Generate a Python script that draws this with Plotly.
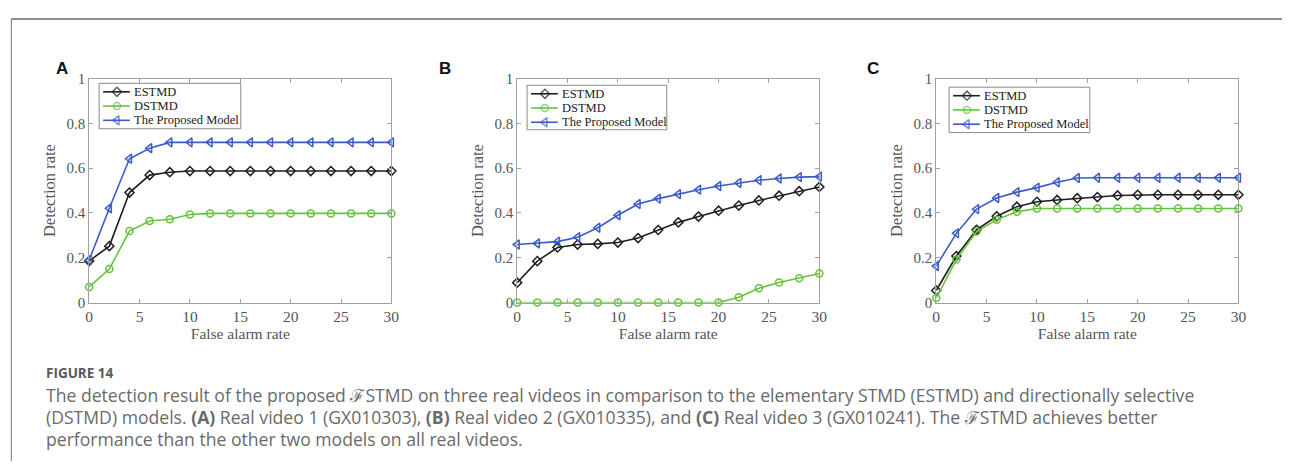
import plotly.graph_objects as go

W, H = 1290, 469

far = [0, 2, 4, 6, 8, 10, 12, 14, 16, 18, 20, 22, 24, 26, 28, 30]

a_estmd = [0.186, 0.252, 0.491, 0.569, 0.582, 0.587, 0.587, 0.587, 0.587, 0.587, 0.587, 0.587, 0.587, 0.587, 0.587, 0.587]
a_dstmd = [0.070, 0.150, 0.319, 0.364, 0.372, 0.393, 0.398, 0.398, 0.398, 0.398, 0.398, 0.398, 0.398, 0.398, 0.398, 0.398]
a_prop = [0.190, 0.421, 0.642, 0.689, 0.715, 0.715, 0.715, 0.715, 0.715, 0.715, 0.715, 0.715, 0.715, 0.715, 0.715, 0.715]

b_estmd = [0.089, 0.185, 0.246, 0.259, 0.262, 0.268, 0.288, 0.324, 0.358, 0.384, 0.410, 0.433, 0.456, 0.477, 0.497, 0.516]
b_dstmd = [0.0, 0.0, 0.0, 0.0, 0.0, 0.0, 0.0, 0.0, 0.0, 0.0, 0.0, 0.024, 0.064, 0.090, 0.109, 0.130]
b_prop = [0.259, 0.264, 0.272, 0.292, 0.334, 0.390, 0.440, 0.464, 0.484, 0.504, 0.520, 0.534, 0.546, 0.554, 0.560, 0.562]

c_estmd = [0.054, 0.208, 0.325, 0.385, 0.428, 0.450, 0.458, 0.466, 0.471, 0.478, 0.481, 0.481, 0.481, 0.481, 0.481, 0.481]
c_dstmd = [0.021, 0.192, 0.317, 0.370, 0.405, 0.420, 0.420, 0.420, 0.420, 0.420, 0.420, 0.420, 0.420, 0.420, 0.420, 0.420]
c_prop = [0.163, 0.309, 0.417, 0.467, 0.493, 0.513, 0.537, 0.556, 0.557, 0.557, 0.557, 0.557, 0.557, 0.557, 0.557, 0.557]

series_names = ["ESTMD", "DSTMD", "The Proposed Model"]
panel_labels = ["A", "B", "C"]
x_ticks = [0, 5, 10, 15, 20, 25, 30]
y_ticks = [0, 0.2, 0.4, 0.6, 0.8, 1]
y_tick_text = ["0", "0.2", "0.4", "0.6", "0.8", "1"]

caption_head = "FIGURE 14"
caption_lines = [
    "The detection result of the proposed ℱSTMD on three real videos in comparison to the elementary STMD (ESTMD) and directionally selective",
    "(DSTMD) models. <b>(A)</b> Real video 1 (GX010303), <b>(B)</b> Real video 2 (GX010335), and <b>(C)</b> Real video 3 (GX010241). The ℱSTMD achieves better",
    "performance than the other two models on all real videos.",
]

panels = [(a_estmd, a_dstmd, a_prop), (b_estmd, b_dstmd, b_prop), (c_estmd, c_dstmd, c_prop)]

colors = ["#1e1e1e", "#66c23f", "#3a5cc4"]
symbols = ["diamond-open", "circle-open", "triangle-left-open"]
msizes = [7, 7, 8]

# pixel geometry of axes
x_px = [(86, 391), (518, 823), (941, 1246)]
y_px = (73, 305)
label_px = [59, 445, 877]
# legend boxes: (left, top, width, height) in pixels
legend_box = [(96, 78, 143, 47), (528, 80, 141, 46), (954, 82, 142, 47)]
legend_row_offsets = [8.8, 23.5, 38.3]

serif = "Liberation Serif, Times New Roman, serif"
axis_col = "#a0a0a0"
text_col = "#555555"

fig = go.Figure()
layout = {}
for i, (vals, (x0, x1)) in enumerate(zip(panels, x_px)):
    sfx = "" if i == 0 else str(i + 1)
    for j, v in enumerate(vals):
        fig.add_trace(go.Scatter(
            x=far, y=v, mode="lines+markers", name=series_names[j],
            line=dict(color=colors[j], width=1.6),
            marker=dict(symbol=symbols[j], size=msizes[j], color=colors[j],
                        line=dict(width=1.5, color=colors[j])),
            xaxis="x" + sfx, yaxis="y" + sfx, cliponaxis=False, showlegend=False,
        ))
    layout["xaxis" + sfx] = dict(
        domain=[x0 / W, x1 / W], range=[0, 30], tickvals=x_ticks,
        ticks="inside", ticklen=4, tickcolor=axis_col, showline=True, linecolor=axis_col,
        linewidth=1, mirror="ticks", showgrid=False, zeroline=False,
        tickfont=dict(family=serif, size=15.5, color=text_col),
        title=dict(text="False alarm rate", font=dict(family=serif, size=15.5, color=text_col), standoff=1),
        anchor="y" + sfx, fixedrange=True,
    )
    layout["yaxis" + sfx] = dict(
        domain=[1 - y_px[1] / H, 1 - y_px[0] / H], range=[0, 1], tickvals=y_ticks, ticktext=y_tick_text,
        ticks="inside", ticklen=4, tickcolor=axis_col, showline=True, linecolor=axis_col,
        linewidth=1, mirror="ticks", showgrid=False, zeroline=False,
        tickfont=dict(family=serif, size=15, color=text_col),
        title=dict(text="Detection rate", font=dict(family=serif, size=16.5, color=text_col), standoff=6),
        anchor="x" + sfx, fixedrange=True,
    )

# Overlay pixel-space axes (drawn above the panels) that hold the compact legends
layout["xaxis4"] = dict(domain=[0, 1], range=[0, W], visible=False, fixedrange=True, anchor="y4")
layout["yaxis4"] = dict(domain=[0, 1], range=[H, 0], visible=False, fixedrange=True, anchor="x4")

annotations = []
for (lx, ly, lw, lh) in legend_box:
    fig.add_trace(go.Scatter(
        x=[lx, lx + lw, lx + lw, lx, lx], y=[ly, ly, ly + lh, ly + lh, ly],
        mode="lines", fill="toself", fillcolor="white", line=dict(color="#8a8a8a", width=1),
        xaxis="x4", yaxis="y4", showlegend=False, hoverinfo="skip",
    ))
    for j, name in enumerate(series_names):
        ry = ly + legend_row_offsets[j]
        fig.add_trace(go.Scatter(
            x=[lx + 4, lx + 18, lx + 31], y=[ry, ry, ry], mode="lines+markers",
            line=dict(color=colors[j], width=1.6),
            marker=dict(symbol=symbols[j], size=[0, msizes[j], 0], color=colors[j],
                        line=dict(width=1.5, color=colors[j])),
            xaxis="x4", yaxis="y4", showlegend=False, hoverinfo="skip",
        ))
        annotations.append(dict(
            text=name, x=(lx + 33) / W, y=1 - ry / H, xref="paper", yref="paper",
            xanchor="left", yanchor="middle", showarrow=False,
            font=dict(family=serif, size=12.5, color="#222222"),
        ))

for i, lab in enumerate(panel_labels):
    annotations.append(dict(
        text="<b>%s</b>" % lab, x=label_px[i] / W, y=1 - 63 / H, xref="paper", yref="paper",
        xanchor="center", yanchor="middle", showarrow=False,
        font=dict(family="Liberation Sans, Arial, sans-serif", size=17, color="#111111"),
    ))
annotations.append(dict(
    text="<b>" + caption_head + "</b>", x=40 / W, y=1 - 378 / H, xref="paper", yref="paper",
    xanchor="left", yanchor="middle", showarrow=False,
    font=dict(family="Open Sans, sans-serif", size=13.5, color="#5a5a5a"),
))
for k, line in enumerate(caption_lines):
    annotations.append(dict(
        text=line, x=40 / W, y=1 - (401 + 22.5 * k) / H, xref="paper", yref="paper",
        xanchor="left", yanchor="middle", showarrow=False,
        font=dict(family="Open Sans, sans-serif", size=17.6, color="#6a6a6a"),
    ))

shapes = [
    dict(type="line", xref="paper", yref="paper", x0=7 / W, x1=1, y0=1 - 11.5 / H, y1=1 - 11.5 / H,
         line=dict(color="#6a6a6a", width=1.5)),
    dict(type="line", xref="paper", yref="paper", x0=7.5 / W, x1=7.5 / W, y0=0, y1=1 - 11.5 / H,
         line=dict(color="#8a8a8a", width=1.2)),
]

fig.update_layout(
    width=W, height=H, margin=dict(l=0, r=0, t=0, b=0),
    paper_bgcolor="white", plot_bgcolor="rgba(0,0,0,0)",
    annotations=annotations, shapes=shapes, showlegend=False, hovermode=False,
    **layout,
)

fig.write_html("out.html", config={"displayModeBar": False})
